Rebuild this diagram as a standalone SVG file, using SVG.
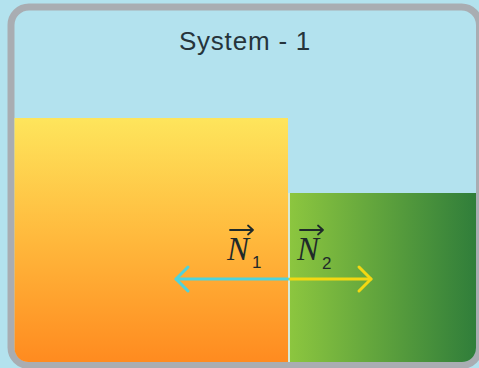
<svg xmlns="http://www.w3.org/2000/svg" width="479" height="368" viewBox="0 0 479 368">
<style>
.lbl{font-family:"Liberation Serif",serif;font-style:italic;font-size:33px;fill:#1f2a2a}
.sub{font-family:"Liberation Sans",sans-serif;font-size:17px;fill:#1f2a2a}
.vec{fill:none;stroke:#1f2a2a;stroke-width:1.8;stroke-linecap:round;stroke-linejoin:round}
.title{font-family:"Liberation Sans",sans-serif;font-size:26px;fill:#26343b}
</style>
<defs>
<linearGradient id="gy" x1="0" y1="0" x2="0" y2="1">
<stop offset="0" stop-color="#fee55c"/>
<stop offset="0.5" stop-color="#ffb83c"/>
<stop offset="1" stop-color="#ff8a1f"/>
</linearGradient>
<linearGradient id="gg" x1="0" y1="0" x2="1" y2="0">
<stop offset="0" stop-color="#8cc63f"/>
<stop offset="1" stop-color="#2f7d3a"/>
</linearGradient>
<clipPath id="inner"><rect x="14.5" y="10.5" width="461.5" height="351.5" rx="14"/></clipPath>
</defs>
<rect width="479" height="368" fill="#b3e2ee"/>
<g id="frame">
<rect x="11" y="7" width="468.5" height="358.5" rx="18" fill="#b3e2ee" stroke="#a9adb2" stroke-width="7"/>
</g>
<g id="title"><text class="title" x="245" y="50" text-anchor="middle" letter-spacing="0.8">System - 1</text></g>
<g clip-path="url(#inner)">
<g id="block1"><rect x="14" y="118" width="274" height="246" fill="url(#gy)"/></g>
<g id="block2"><rect x="290" y="193" width="188" height="171" fill="url(#gg)"/></g>
<rect x="288" y="193" width="2" height="171" fill="#d6ead6"/>
</g>
<g id="connectors" fill="none" stroke-width="3" stroke-linecap="round" stroke-linejoin="round">
<g stroke="#4fd3dc"><path d="M288 279 H176"/><path d="M188 267 L176 279 L188 291"/></g>
<g stroke="#f3d812"><path d="M290 279 H371"/><path d="M359 267 L371 279 L359 291"/></g>
</g>
<g id="labelN1">
<text class="lbl" x="227" y="260">N</text>
<text class="sub" x="252" y="268">1</text>
<path class="vec" d="M230 230 H253 M248 225.5 L253 230 L248 234.5"/>
</g>
<g id="labelN2">
<text class="lbl" x="297" y="260">N</text>
<text class="sub" x="322" y="269">2</text>
<path class="vec" d="M300 230 H323 M318 225.5 L323 230 L318 234.5"/>
</g>
</svg>
